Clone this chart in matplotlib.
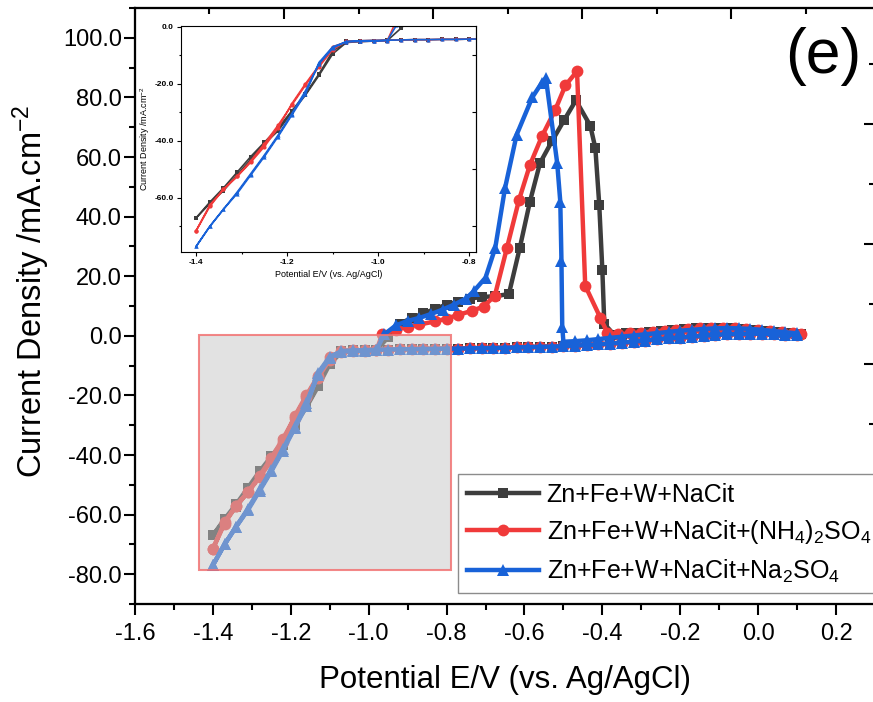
import matplotlib
matplotlib.use("Agg")
import matplotlib.pyplot as plt
from matplotlib.patches import Rectangle
from matplotlib.ticker import MultipleLocator, FuncFormatter, FixedLocator, NullFormatter

plt.rcParams.update({
    "font.family": ["Liberation Sans", "DejaVu Sans"],
    "mathtext.fontset": "custom",
    "mathtext.rm": "Liberation Sans",
    "mathtext.it": "Liberation Sans:italic",
    "mathtext.bf": "Liberation Sans:bold",
})

# ---- data (E in V vs Ag/AgCl, j in mA/cm2) ----
# cathodic (forward) sweep, shared potential grid
E_fwd = [0.10, 0.07, 0.04, 0.01, -0.02, -0.05, -0.08, -0.11, -0.14, -0.17,
         -0.20, -0.23, -0.26, -0.29, -0.32, -0.35, -0.38, -0.41, -0.44, -0.47,
         -0.50, -0.53, -0.56, -0.59, -0.62, -0.65, -0.68, -0.71, -0.74, -0.77,
         -0.80, -0.83, -0.86, -0.89, -0.92, -0.95, -0.98, -1.01, -1.04, -1.07,
         -1.10, -1.13, -1.16, -1.19, -1.22, -1.25, -1.28, -1.31, -1.34, -1.37, -1.40]
j_fwd_flat = [0.3, 0.4, 0.6, 0.7, 0.7, 0.6, 0.5, 0.3, 0.0, -0.3,
              -0.6, -0.9, -1.2, -1.6, -2.0, -2.3, -2.6, -2.9, -3.1, -3.3,
              -3.5, -3.6, -3.7, -3.8, -3.9, -4.0, -4.1, -4.1, -4.2, -4.3,
              -4.3, -4.4, -4.4, -4.5, -4.5, -4.6, -4.7, -4.8, -4.9, -5.1]
black_j_cath = [-8.5, -16.5, -23.5, -29.5, -35.5, -40.5, -45.5, -51.0, -56.5, -61.5, -67.0]
red_j_cath = [-8.0, -14.0, -20.5, -27.5, -34.5, -41.0, -47.0, -52.5, -57.0, -62.5, -71.5]
blue_j_cath = [-7.5, -13.0, -22.5, -30.5, -38.0, -45.0, -51.5, -58.0, -64.0, -70.0, -77.0]

# anodic (reverse) sweep, one list per bath
black_E_rev = [-1.40, -1.37, -1.34, -1.31, -1.28, -1.25, -1.22, -1.19, -1.16, -1.13,
               -1.10, -1.07, -1.04, -1.01, -0.98, -0.95,
               -0.92, -0.89, -0.86, -0.83, -0.80, -0.77, -0.74, -0.71,
               -0.675, -0.64, -0.612, -0.586, -0.56, -0.529, -0.498, -0.468,
               -0.431, -0.418, -0.408, -0.40, -0.395,
               -0.37, -0.34, -0.31, -0.28, -0.25, -0.22, -0.19, -0.16, -0.13,
               -0.10, -0.07, -0.04, -0.01, 0.02, 0.05, 0.08, 0.11]
black_j_rev = [-67.0, -62.0, -57.5, -52.0, -46.5, -41.0, -36.5, -30.0, -24.0, -17.0,
               -9.5, -5.5, -5.2, -5.0, -4.8, -0.5,
               4.0, 6.0, 7.5, 9.0, 10.5, 11.5, 12.5, 13.0,
               13.3, 14.0, 29.5, 45.0, 58.0, 65.4, 72.4, 79.0,
               70.5, 63.0, 44.0, 22.0, 4.0,
               0.4, 0.8, 1.1, 1.4, 1.7, 2.0, 2.3, 2.5, 2.7,
               2.7, 2.6, 2.3, 2.0, 1.6, 1.2, 0.8, 0.5]

red_E_rev = [-1.40, -1.37, -1.34, -1.31, -1.28, -1.25, -1.22, -1.19, -1.16, -1.13,
             -1.10, -1.07, -1.04, -1.01, -0.98, -0.965,
             -0.93, -0.90, -0.87, -0.83, -0.80, -0.77, -0.735, -0.705,
             -0.676, -0.645, -0.614, -0.586, -0.555, -0.521, -0.495, -0.465,
             -0.444, -0.405, -0.387,
             -0.36, -0.33, -0.30, -0.27, -0.24, -0.21, -0.18, -0.15, -0.12,
             -0.09, -0.06, -0.03, 0.00, 0.03, 0.06, 0.09, 0.11]
red_j_rev = [-71.5, -63.0, -57.0, -52.5, -47.5, -42.0, -35.5, -27.0, -20.0, -13.5,
             -7.0, -5.3, -5.1, -5.0, -4.8, 0.5,
             2.0, 3.0, 3.8, 4.8, 5.8, 7.0, 8.4, 9.8,
             13.5, 29.5, 45.6, 57.3, 67.0, 75.8, 84.0, 88.8,
             16.8, 6.0, 1.0,
             0.5, 0.8, 1.1, 1.4, 1.7, 2.0, 2.3, 2.5, 2.7,
             2.7, 2.6, 2.3, 2.0, 1.6, 1.2, 0.8, 0.5]

blue_E_rev = [-1.40, -1.37, -1.34, -1.31, -1.28, -1.25, -1.22, -1.19, -1.16, -1.13,
              -1.10, -1.07, -1.04, -1.01, -0.98, -0.96,
              -0.93, -0.90, -0.87, -0.84, -0.81, -0.78, -0.75, -0.73,
              -0.70, -0.675, -0.65, -0.62, -0.58, -0.555, -0.545,
              -0.516, -0.508, -0.505, -0.503, -0.50,
              -0.47, -0.44, -0.41, -0.38, -0.35, -0.32, -0.29, -0.26, -0.23, -0.20,
              -0.17, -0.14, -0.11, -0.08, -0.05, -0.02, 0.01, 0.04, 0.07, 0.10]
blue_j_rev = [-77.0, -70.0, -64.0, -58.5, -52.0, -45.5, -38.5, -31.0, -23.5, -12.5,
              -7.0, -5.3, -5.1, -5.0, -4.8, 0.5,
              3.5, 5.0, 6.0, 7.3, 8.8, 10.5, 12.5, 15.0,
              19.5, 29.5, 49.5, 67.5, 80.0, 85.0, 86.5,
              58.0, 45.0, 25.0, 3.0, -2.0,
              -1.8, -1.5, -1.1, -0.7, -0.3, 0.1, 0.5, 0.9, 1.3, 1.7,
              2.0, 2.3, 2.5, 2.6, 2.5, 2.3, 2.0, 1.6, 1.2, 0.8]

LABELS = ["Zn+Fe+W+NaCit",
          r"Zn+Fe+W+NaCit+(NH$\mathregular{_4}$)$\mathregular{_2}$SO$\mathregular{_4}$",
          r"Zn+Fe+W+NaCit+Na$\mathregular{_2}$SO$\mathregular{_4}$"]
COLORS = ["#3d3d3d", "#f03a3a", "#1862d8"]
MARKERS = ["s", "o", "^"]
MSIZE = [7.5, 8.5, 9]

series = [
    (E_fwd + black_E_rev, j_fwd_flat + black_j_cath + black_j_rev),
    (E_fwd + red_E_rev, j_fwd_flat + red_j_cath + red_j_rev),
    (E_fwd + blue_E_rev, j_fwd_flat + blue_j_cath + blue_j_rev),
]


def fmt1(v, pos):
    return "0.0" if abs(v) < 1e-9 else f"{v:.1f}"


fig = plt.figure(figsize=(8.73, 7.02), dpi=100)
ax = fig.add_axes([0.1546, 0.1396, 0.8477, 0.849])

handles = []
for (E, j), c, m, ms, lbl in zip(series, COLORS, MARKERS, MSIZE, LABELS):
    h, = ax.plot(E, j, color=c, marker=m, ms=ms, lw=3.2, mew=0, label=lbl, zorder=3)
    handles.append(h)

ax.add_patch(Rectangle((-1.435, -78.7), 0.647, 79.1, facecolor=(0.78, 0.78, 0.78, 0.5),
                       edgecolor=(0.95, 0.45, 0.45, 0.85), lw=1.5, zorder=4))

ax.set_xlim(-1.6, 0.3)
ax.set_ylim(-90, 110)
ax.xaxis.set_major_locator(MultipleLocator(0.2))
ax.xaxis.set_minor_locator(MultipleLocator(0.1))
ax.yaxis.set_major_locator(MultipleLocator(20))
ax.yaxis.set_minor_locator(MultipleLocator(10))
ax.xaxis.set_major_formatter(FuncFormatter(fmt1))
ax.yaxis.set_major_formatter(FuncFormatter(fmt1))
ax.tick_params(which="major", direction="out", length=8, width=1.5, labelsize=17)
ax.tick_params(axis="x", which="major", pad=6)
ax.tick_params(axis="y", which="major", pad=1.5)
ax.tick_params(which="minor", direction="out", length=4, width=1.5)
for s in ax.spines.values():
    s.set_linewidth(1.5)

ax.set_xlabel("Potential E/V (vs. Ag/AgCl)", fontsize=22.5)
ax.xaxis.set_label_coords(0.5, -0.103)
ax.set_ylabel("Current Density /mA.cm$^{-2}$", fontsize=23.5)
ax.yaxis.set_label_coords(-0.112, 0.525)

# top / right tick marks (own scales, no labels)
axt = ax.twiny()
axt.set_xlim(0, 9.93)
axt.xaxis.set_major_locator(FixedLocator([2, 4, 6, 8]))
axt.xaxis.set_minor_locator(FixedLocator([1, 3, 5, 7, 9]))
axt.tick_params(which="both", direction="in", labeltop=False, width=1.5)
axt.tick_params(which="major", length=8)
axt.tick_params(which="minor", length=4)
axr = ax.twinx()
axr.set_ylim(0, 9.93)
axr.yaxis.set_major_locator(FixedLocator([2, 4, 6, 8]))
axr.yaxis.set_minor_locator(FixedLocator([1, 3, 5, 7, 9]))
axr.tick_params(which="both", direction="in", labelright=False, width=1.5)
axr.tick_params(which="major", length=8)
axr.tick_params(which="minor", length=4)
for a in (axt, axr):
    for s in a.spines.values():
        s.set_linewidth(1.5)

leg = axr.legend(handles, LABELS, loc="upper left", bbox_to_anchor=(0.4365, 0.218),
                 fontsize=18, frameon=True, fancybox=False, edgecolor="#8c8c8c",
                 framealpha=1, handlelength=2.9, handletextpad=0.3, borderpad=0.35,
                 labelspacing=0.45, borderaxespad=0)
leg.get_frame().set_linewidth(1.0)

fig.text(823 / 873, 1 - 57 / 702, "(e)", fontsize=45, ha="center", va="center")

# inset: zoom of the cathodic region
axin = fig.add_axes([0.207, 0.641, 0.3383, 0.3224])
for (E, j), c, m in zip(series, COLORS, MARKERS):
    axin.plot(E, j, color=c, marker=m, ms=3, lw=1.2, mew=0)
axin.set_xlim(-1.434, -0.785)
axin.set_ylim(-79, 0.4)
axin.xaxis.set_major_locator(MultipleLocator(0.2))
axin.xaxis.set_minor_locator(MultipleLocator(0.1))
axin.yaxis.set_major_locator(MultipleLocator(20))
axin.yaxis.set_minor_locator(MultipleLocator(10))
axin.xaxis.set_major_formatter(FuncFormatter(fmt1))
axin.yaxis.set_major_formatter(FuncFormatter(fmt1))
axin.tick_params(which="major", direction="out", length=3, width=0.8, labelsize=6, pad=2)
axin.tick_params(which="minor", direction="out", length=1.5, width=0.8)
for t in axin.get_xticklabels() + axin.get_yticklabels():
    t.set_fontweight("bold")
sec = axin.secondary_yaxis("right")
sec.yaxis.set_major_locator(FixedLocator([-10, -30, -50, -70]))
sec.yaxis.set_major_formatter(NullFormatter())
sec.tick_params(direction="in", length=3, width=0.8)
for s in list(axin.spines.values()) + [sec.spines["right"]]:
    s.set_linewidth(0.8)
axin.set_xlabel("Potential E/V (vs. Ag/AgCl)", fontsize=6.5, labelpad=3)
axin.set_ylabel("Current Density /mA.cm$^{-2}$", fontsize=6.5, labelpad=2)

fig.savefig("out.png", dpi=100)
